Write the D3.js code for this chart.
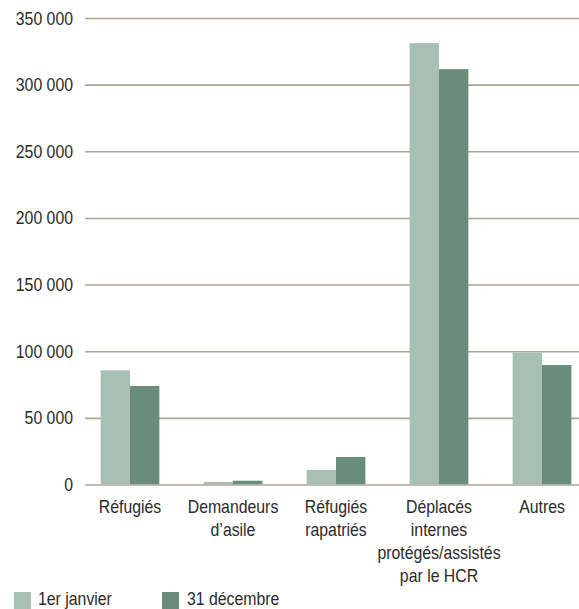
<!DOCTYPE html>
<html><head><meta charset="utf-8">
<script src="https://cdn.jsdelivr.net/npm/d3@7"></script>
<style>
body{margin:0;background:#fff;}
text{font-family:"Liberation Sans",Arial,sans-serif;fill:#2b2b2b;}
</style></head>
<body><svg id="c" width="579" height="609"></svg>
<script>
const categories = [["Réfugiés"],["Demandeurs","d’asile"],["Réfugiés","rapatriés"],["Déplacés","internes","protégés/assistés","par le HCR"],["Autres"]];
const seriesNames = ["1er janvier","31 décembre"];
const janvier = [86000, 2300, 11300, 331500, 99300];
const decembre = [74300, 3200, 21000, 312000, 90000];
const yTicks = [0,50000,100000,150000,200000,250000,300000,350000];
const colors = ["#a8bfb5","#6a8c7a"];

const svg = d3.select("#c");
const y = d3.scaleLinear().domain([0,350000]).range([485,18.5]);
const x0 = d3.scaleBand().domain(d3.range(categories.length)).range([78.5,593.5]).paddingInner(0.43).paddingOuter(0.215);
const x1 = d3.scaleBand().domain([0,1]).range([0,x0.bandwidth()]);
const fmt = v => d3.format(",")(v).replace(/,/g," ");
const SX = 0.88;
function txt(x, yy, anchor, str, size){
  const g = svg.append("g").attr("transform",`translate(${x},${yy}) scale(${SX},1)`);
  return g.append("text").attr("x",0).attr("y",0).attr("text-anchor",anchor).attr("font-size",size||18).text(str);
}

yTicks.forEach(t=>{
  svg.append("line").attr("x1",85).attr("x2",579).attr("y1",y(t)).attr("y2",y(t))
    .attr("stroke","#aca397").attr("stroke-width",1.6);
  txt(73, y(t)+6, "end", fmt(t));
});

[janvier,decembre].forEach((s,si)=>{
  svg.append("g").selectAll("rect").data(s).join("rect")
    .attr("x",(d,i)=>x0(i)+x1(si)).attr("width",x1.bandwidth())
    .attr("y",d=>y(d)).attr("height",d=>y(0)-y(d)-0.8)
    .attr("fill",colors[si]);
});

categories.forEach((lines,i)=>{
  lines.forEach((l,j)=>txt(x0(i)+x0.bandwidth()/2, 513+23*j, "middle", l));
});

const leg=[[14,38],[162,187]];
seriesNames.forEach((n,i)=>{
  svg.append("rect").attr("x",leg[i][0]).attr("y",592).attr("width",17).attr("height",17).attr("fill",colors[i]);
  txt(leg[i][1], 604.5, "start", n);
});
</script></body></html>
